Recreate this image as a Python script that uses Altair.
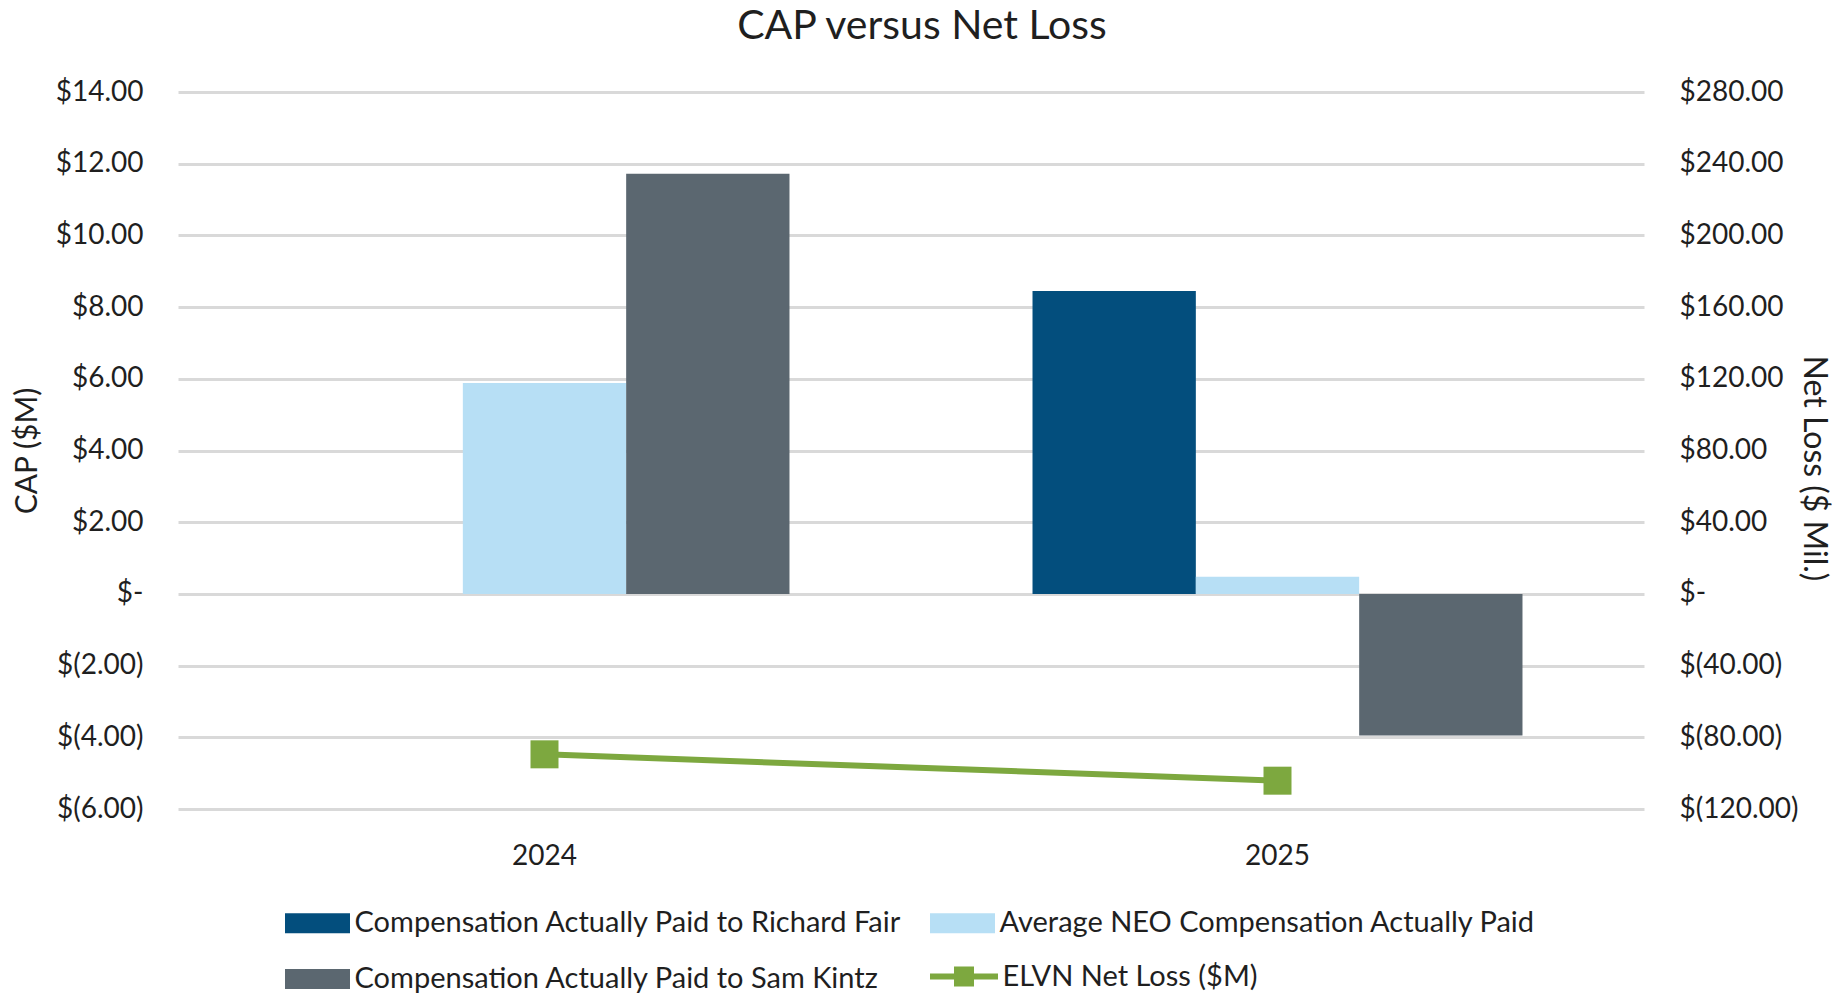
import altair as alt
import pandas as pd

years = ["2024", "2025"]
series = [
    "Compensation Actually Paid to Richard Fair",
    "Average NEO Compensation Actually Paid",
    "Compensation Actually Paid to Sam Kintz",
]
cap_fair = [None, 8.45]
cap_neo = [5.88, 0.48]
cap_kintz = [11.72, -3.95]
net_loss = [-89.5, -104.2]
line_name = "ELVN Net Loss ($M)"

bar_colors = ["#034E7D", "#B7DFF5", "#5B6770"]
line_color = "#7DA83F"
cap_ticks = [-6, -4, -2, 0, 2, 4, 6, 8, 10, 12, 14]
loss_ticks = [-120, -80, -40, 0, 40, 80, 120, 160, 200, 240, 280]

rows = []
for s, vals in zip(series, [cap_fair, cap_neo, cap_kintz]):
    for y, v in zip(years, vals):
        if v is not None:
            rows.append({"year": y, "series": s, "cap": v})
bar_df = pd.DataFrame(rows)
line_df = pd.DataFrame({"year": years, "loss": net_loss, "name": [line_name] * len(years)})

FONT = "Lato"
TXT = "#1f1f1f"
W, H = 1466, 717
money = ("datum.value == 0 ? '$-' : (datum.value < 0 ? '$(' + format(-datum.value, ',.2f') + ')'"
         " : '$' + format(datum.value, ',.2f'))")

x_enc = alt.X(
    "year:N", sort=years,
    scale=alt.Scale(domain=years, paddingInner=0, paddingOuter=0),
    axis=alt.Axis(title=None, labelAngle=0, ticks=False, domain=False, grid=False,
                  labelPadding=47, labelBaseline="middle", labelFontSize=28,
                  labelFont=FONT, labelColor=TXT),
)

bars = alt.Chart(bar_df).mark_bar().encode(
    x=x_enc,
    xOffset=alt.XOffset("series:N", sort=series,
                        scale=alt.Scale(domain=series, paddingInner=0, paddingOuter=0.744)),
    y=alt.Y("cap:Q", scale=alt.Scale(domain=[-6, 14], nice=False),
            axis=alt.Axis(values=cap_ticks, labelExpr=money, title="CAP ($M)",
                          grid=True, gridColor="#D9D9D9", gridWidth=3,
                          ticks=False, domain=False, labelPadding=35,
                          labelFontSize=28, labelFont=FONT, labelColor=TXT,
                          titleFontSize=30, titleFont=FONT, titleColor=TXT,
                          titleFontWeight="normal", titleAngle=270,
                          titleX=-151, titleY=H / 2, titleAlign="center",
                          titleBaseline="middle")),
    color=alt.Color("series:N", sort=series,
                    scale=alt.Scale(domain=series, range=bar_colors),
                    legend=alt.Legend(title=None, orient="none", legendX=125, legendY=816.5,
                                      columns=2, direction="horizontal",
                                      columnPadding=28, rowPadding=26,
                                      symbolType="M-3.25,-1H3.25V1H-3.25Z", symbolSize=400,
                                      symbolStrokeWidth=0, labelOffset=22.5, labelLimit=900,
                                      labelFontSize=29, labelFont=FONT, labelColor=TXT)),
)

line = alt.Chart(line_df).mark_line(
    strokeWidth=6,
    point=alt.OverlayMarkDef(shape="square", size=784, filled=True, fill=line_color, strokeWidth=0),
).encode(
    x=alt.X("year:N", sort=years),
    y=alt.Y("loss:Q", scale=alt.Scale(domain=[-120, 280], nice=False),
            axis=alt.Axis(orient="right", values=loss_ticks, labelExpr=money,
                          title="Net Loss ($ Mil.)", grid=False, ticks=False, domain=False,
                          labelPadding=35, labelFontSize=28, labelFont=FONT, labelColor=TXT,
                          titleFontSize=32, titleFont=FONT, titleColor=TXT,
                          titleFontWeight="normal", titleAngle=90,
                          titleX=169, titleY=376, titleAlign="center",
                          titleBaseline="middle")),
    color=alt.Color("name:N", scale=alt.Scale(domain=[line_name], range=[line_color]),
                    legend=alt.Legend(title=None, orient="none", legendX=771.5, legendY=870,
                                      symbolType="M-3.4,-0.3H3.4V0.3H-3.4ZM-1,-1H1V1H-1Z",
                                      symbolSize=400, labelOffset=24, labelLimit=900,
                                      symbolFillColor=line_color, symbolStrokeWidth=0,
                                      labelFontSize=29, labelFont=FONT, labelColor=TXT)),
)

chart = alt.layer(bars, line).resolve_scale(y="independent", color="independent").properties(
    width=W, height=H,
    autosize=alt.AutoSizeParams(type="none"),
    padding={"left": 170, "top": 84, "right": 188, "bottom": 186},
    background="white",
    title=alt.Title("CAP versus Net Loss", fontSize=41, font=FONT, color=TXT,
                    fontWeight="normal", anchor="middle", offset=30, dx=11),
).configure_view(stroke=None)

chart.save("out.html", embed_options={"renderer": "svg", "actions": False})
